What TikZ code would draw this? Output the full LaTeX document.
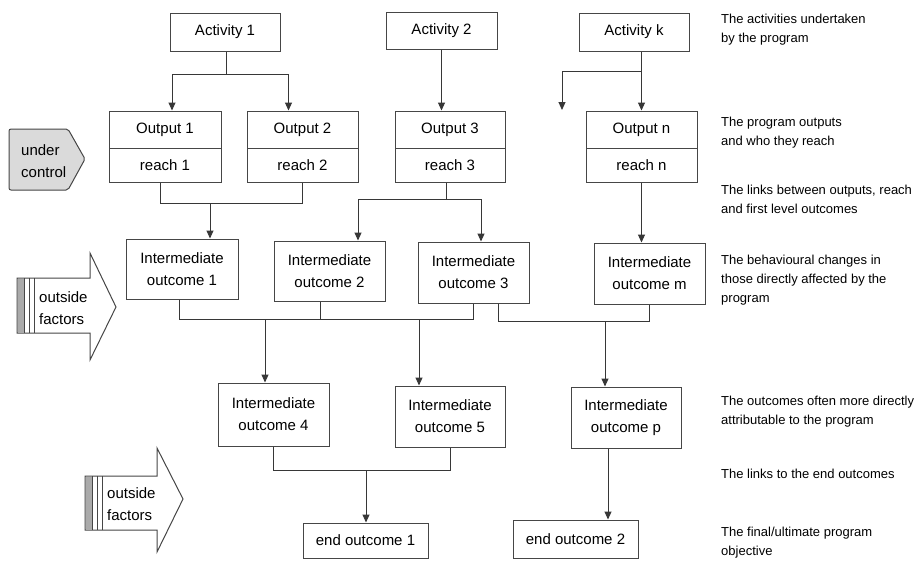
\documentclass[tikz,border=0pt]{standalone}
\usepackage{fontspec}
\setmainfont{Liberation Sans}
\usetikzlibrary{arrows.meta}
\definecolor{linec}{RGB}{55,55,55}
\definecolor{boxc}{RGB}{70,70,70}
\definecolor{ucgray}{RGB}{218,218,218}
\definecolor{stripe}{RGB}{170,170,170}
\newcommand\bxfont{\fontsize{15}{22}\selectfont}
\newcommand\ntfont{\fontsize{13}{19}\selectfont}
\newcommand\sdfont{\fontsize{15}{22}\selectfont}
\begin{document}
\begin{tikzpicture}[x=1pt,y=-1pt,
  ln/.style={draw=linec, line width=1pt},
  arr/.style={ln, -{Triangle[width=7pt,length=8pt]}},
  box/.style={draw=boxc, line width=1pt, inner sep=0pt, align=center, font=\bxfont, fill=white},
  note/.style={anchor=west, inner sep=0pt, align=left, font=\ntfont},
  side/.style={anchor=west, inner sep=0pt, align=left, font=\sdfont}]
\useasboundingbox (0,0) rectangle (921,560);
\fill[white] (0,0) rectangle (921,560);

% activities
\node[box, minimum width=110pt, minimum height=38pt] (act1) at (225,32) {Activity 1};
\node[box, minimum width=111pt, minimum height=37pt] (act2) at (441.5,30.5) {Activity 2};
\node[box, minimum width=110pt, minimum height=38pt] (actk) at (634,32) {Activity k};

% outputs and reach
\node[box, minimum width=112pt, minimum height=37pt] (out1) at (165,129.5) {Output 1};
\node[box, minimum width=112pt, minimum height=34pt] (r1) at (165,165) {reach 1};
\node[box, minimum width=111pt, minimum height=37pt] (out2) at (302.5,129.5) {Output 2};
\node[box, minimum width=111pt, minimum height=34pt] (r2) at (302.5,165) {reach 2};
\node[box, minimum width=110pt, minimum height=37pt] (out3) at (450,129.5) {Output 3};
\node[box, minimum width=110pt, minimum height=34pt] (r3) at (450,165) {reach 3};
\node[box, minimum width=111pt, minimum height=37pt] (outn) at (641.5,129.5) {Output n};
\node[box, minimum width=111pt, minimum height=34pt] (rn) at (641.5,165) {reach n};

% intermediate outcomes, first level
\node[box, minimum width=112pt, minimum height=60pt] (int1) at (182,269) {Intermediate\\outcome 1};
\node[box, minimum width=111pt, minimum height=60pt] (int2) at (329.5,271) {Intermediate\\outcome 2};
\node[box, minimum width=111pt, minimum height=61pt] (int3) at (473.5,272.5) {Intermediate\\outcome 3};
\node[box, minimum width=111pt, minimum height=61pt] (intm) at (649.5,273.5) {Intermediate\\outcome m};

% intermediate outcomes, second level
\node[box, minimum width=111pt, minimum height=63pt] (int4) at (273.5,414.5) {Intermediate\\outcome 4};
\node[box, minimum width=110pt, minimum height=61pt] (int5) at (450,416.5) {Intermediate\\outcome 5};
\node[box, minimum width=110pt, minimum height=61pt] (intp) at (626,417.5) {Intermediate\\outcome p};

% end outcomes
\node[box, minimum width=125pt, minimum height=35pt] (end1) at (365.5,540.5) {end outcome 1};
\node[box, minimum width=125pt, minimum height=38pt] (end2) at (575.5,539) {end outcome 2};

% connectors: activities -> outputs
\coordinate (j1) at (226,74);
\draw[ln] (act1.south -| j1) -- (j1);
\draw[arr] (j1) -| ([xshift=7pt]out1.north);
\draw[arr] (j1) -| ([xshift=-14pt]out2.north);
\draw[arr] (act2.south) -- (act2.south |- out3.north);
\draw[arr] (outn.north |- actk.south) -- (outn.north);
\coordinate (jk) at (641.5,71);
\coordinate (kend) at (562,110);
\draw[arr] (jk) -| (kend);

% outputs -> first level outcomes
\coordinate (j2) at (210,203);
\draw[ln] ([xshift=-5pt]r1.south) -- ([xshift=-5pt]r1.south |- j2) -- (r2.south |- j2) -- (r2.south);
\draw[arr] (j2) -- (j2 |- int1.north);
\coordinate (j3) at (446,199);
\draw[ln] ([xshift=-4pt]r3.south) -- (j3);
\draw[arr] (j3) -| ([xshift=28.5pt]int2.north);
\draw[arr] (j3) -| ([xshift=7.5pt]int3.north);
\draw[arr] (rn.south) -- (rn.south |- intm.north);

% first level -> second level
\coordinate (j4) at (265,319);
\coordinate (j5) at (419,319);
\draw[ln] ([xshift=-3pt]int1.south) |- (int3.south |- j4) -- (int3.south);
\draw[ln] ([xshift=-9.5pt]int2.south) -- ([xshift=-9.5pt]int2.south |- j4);
\draw[arr] (j4) -- (j4 |- int4.north);
\draw[arr] (j5) -- (j5 |- int5.north);
\coordinate (j6) at (605,321);
\draw[ln] ([xshift=24.5pt]int3.south) |- (intm.south |- j6) -- (intm.south);
\draw[arr] (j6) -- (j6 |- intp.north);

% second level -> end outcomes
\coordinate (j7) at (366,470);
\draw[ln] (int4.south) |- (int5.south |- j7) -- (int5.south);
\draw[arr] (j7) -- (j7 |- end1.north);
\draw[arr] ([xshift=-18pt]intp.south) -- ([xshift=-18pt]intp.south |- end2.north);

% under control tag
\draw[draw=boxc, line width=1pt, fill=ucgray, rounded corners=2pt]
  (9,129) -- (68,129) -- (85,159) -- (68,190) -- (9,190) -- cycle;
\node[side] (uc) at (21,161) {under\\control};

% outside factors arrows
\draw[draw=boxc, line width=1pt, fill=white]
  (17,278) -- (90,278) -- (90,253) -- (116,307) -- (90,360) -- (90,333) -- (17,333) -- cycle;
\fill[stripe] (17.5,278.5) rectangle (24,332.5);
\draw[draw=boxc, line width=1pt] (24,278) -- (24,333) (29,278) -- (29,333) (34,278) -- (34,333);
\node[side] (of1) at (39,308) {outside\\factors};

\draw[draw=boxc, line width=1pt, fill=white]
  (85,476) -- (157,476) -- (157,448) -- (183,499) -- (157,552) -- (157,530) -- (85,530) -- cycle;
\fill[stripe] (85.5,476.5) rectangle (92,529.5);
\draw[draw=boxc, line width=1pt] (92,476) -- (92,530) (97,476) -- (97,530) (102,476) -- (102,530);
\node[side] (of2) at (107,504) {outside\\factors};

% right-hand annotations
\node[note] (n1) at (721,29.5) {The activities undertaken\\by the program};
\node[note] (n2) at (721,133) {The program outputs\\and who they reach};
\node[note] (n3) at (721,199.5) {The links between outputs, reach\\and first level outcomes};
\node[note] (n4) at (721,280) {The behavioural changes in\\those directly affected by the\\program};
\node[note] (n5) at (721,412) {The outcomes often more directly\\attributable to the program};
\node[note] (n6) at (721,474) {The links to the end outcomes};
\node[note] (n7) at (721,543) {The final/ultimate program\\objective};
\end{tikzpicture}
\end{document}
